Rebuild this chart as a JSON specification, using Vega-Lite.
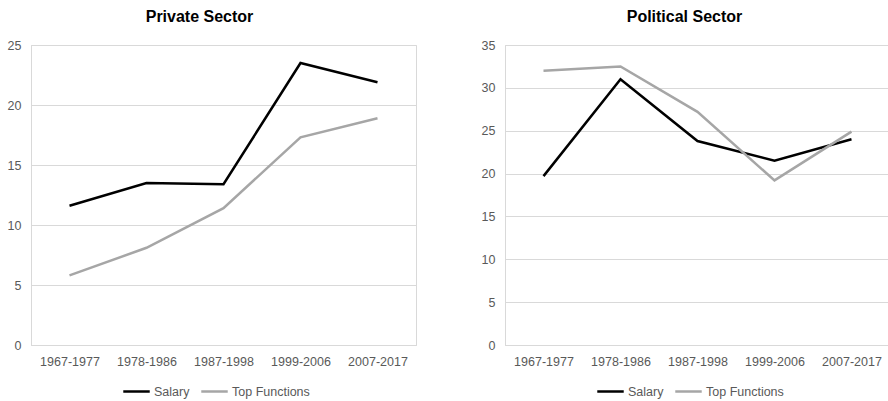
{
  "$schema": "https://vega.github.io/schema/vega-lite/v6.json",
  "background": "white",
  "padding": {"left": 6, "top": 8, "right": 0, "bottom": 0},
  "config": {
    "font": "Liberation Sans",
    "view": {"stroke": "#d9d9d9", "strokeWidth": 1},
    "axis": {"labelFont": "Liberation Sans", "labelColor": "#595959", "labelFontSize": 12.5, "ticks": false, "domainColor": "#d9d9d9", "gridColor": "#d9d9d9", "title": null},
    "title": {"font": "Liberation Sans", "fontSize": 16, "fontWeight": "bold", "color": "#000000", "offset": 14},
    "legend": {"orient": "none", "legendX": 91, "legendY": 332, "direction": "horizontal", "title": null, "labelFont": "Liberation Sans", "labelFontSize": 12.5, "labelColor": "#595959", "symbolType": "stroke", "symbolSize": 700, "symbolStrokeWidth": 2.5, "columnPadding": 6, "labelOffset": 3, "padding": 0}
  },
  "datasets": {
    "private": [
      {"period": "1967-1977", "series": "Salary", "value": 11.6},
      {"period": "1978-1986", "series": "Salary", "value": 13.5},
      {"period": "1987-1998", "series": "Salary", "value": 13.4},
      {"period": "1999-2006", "series": "Salary", "value": 23.5},
      {"period": "2007-2017", "series": "Salary", "value": 21.9},
      {"period": "1967-1977", "series": "Top Functions", "value": 5.8},
      {"period": "1978-1986", "series": "Top Functions", "value": 8.1},
      {"period": "1987-1998", "series": "Top Functions", "value": 11.4},
      {"period": "1999-2006", "series": "Top Functions", "value": 17.3},
      {"period": "2007-2017", "series": "Top Functions", "value": 18.9}
    ],
    "political": [
      {"period": "1967-1977", "series": "Salary", "value": 19.7},
      {"period": "1978-1986", "series": "Salary", "value": 31.0},
      {"period": "1987-1998", "series": "Salary", "value": 23.8},
      {"period": "1999-2006", "series": "Salary", "value": 21.5},
      {"period": "2007-2017", "series": "Salary", "value": 24.0},
      {"period": "1967-1977", "series": "Top Functions", "value": 32.0},
      {"period": "1978-1986", "series": "Top Functions", "value": 32.5},
      {"period": "1987-1998", "series": "Top Functions", "value": 27.2},
      {"period": "1999-2006", "series": "Top Functions", "value": 19.2},
      {"period": "2007-2017", "series": "Top Functions", "value": 24.9}
    ]
  },
  "hconcat": [
    {
      "title": {"text": "Private Sector", "dx": -24},
      "width": 385,
      "height": 300,
      "data": {"name": "private"},
      "mark": {"type": "line", "strokeWidth": 2.5},
      "encoding": {
        "x": {"field": "period", "type": "ordinal", "axis": {"labelAngle": 0, "labelPadding": 10, "grid": false}},
        "y": {"field": "value", "type": "quantitative", "scale": {"domain": [0, 25]}, "axis": {"values": [0, 5, 10, 15, 20, 25], "labelPadding": 10}},
        "color": {"field": "series", "type": "nominal", "scale": {"domain": ["Salary", "Top Functions"], "range": ["#000000", "#a6a6a6"]}}
      }
    },
    {
      "title": {"text": "Political Sector", "dx": -13},
      "width": 385,
      "height": 300,
      "data": {"name": "political"},
      "mark": {"type": "line", "strokeWidth": 2.5},
      "encoding": {
        "x": {"field": "period", "type": "ordinal", "axis": {"labelAngle": 0, "labelPadding": 10, "grid": false}},
        "y": {"field": "value", "type": "quantitative", "scale": {"domain": [0, 35]}, "axis": {"values": [0, 5, 10, 15, 20, 25, 30, 35], "labelPadding": 10}},
        "color": {"field": "series", "type": "nominal", "scale": {"domain": ["Salary", "Top Functions"], "range": ["#000000", "#a6a6a6"]}}
      }
    }
  ],
  "spacing": 63,
  "resolve": {"scale": {"color": "independent", "y": "independent"}}
}
